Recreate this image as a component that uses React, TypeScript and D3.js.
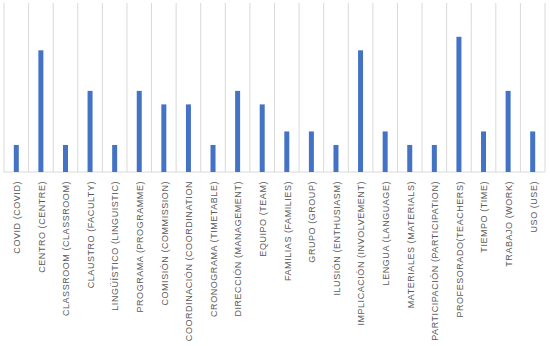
import React from "react";
import * as d3 from "d3";

const categories = [
  "COVID (COVID)",
  "CENTRO (CENTRE)",
  "CLASSROOM (CLASSROOM)",
  "CLAUSTRO (FACULTY)",
  "LINGÜÍSTICO (LINGUISTIC)",
  "PROGRAMA (PROGRAMME)",
  "COMISIÓN (COMMISSION)",
  "COORDINACIÓN (COORDINATION",
  "CRONOGRAMA (TIMETABLE)",
  "DIRECCIÓN (MANAGEMENT)",
  "EQUIPO (TEAM)",
  "FAMILIAS (FAMILIES)",
  "GRUPO (GROUP)",
  "ILUSIÓN (ENTHUSIASM)",
  "IMPLICACIÓN (INVOLVEMENT)",
  "LENGUA (LANGUAGE)",
  "MATERIALES (MATERIALS)",
  "PARTICIPACIÓN (PARTICIPATION)",
  "PROFESORADO(TEACHERS)",
  "TIEMPO (TIME)",
  "TRABAJO (WORK)",
  "USO (USE)",
];

const values = [2, 9, 2, 6, 2, 6, 5, 5, 2, 6, 5, 3, 3, 2, 9, 3, 2, 2, 10, 3, 6, 3];

const W = 550;
const H = 346;
const left = 4;
const right = 545;
const top = 3;
const baseline = 172;

export default function App() {
  const x = d3.scaleBand<string>().domain(categories).range([left, right]).padding(0);
  const y = d3.scaleLinear().domain([0, 12.5]).range([baseline, top]);
  const bw = 5;
  const edges = categories.map((c) => x(c)!).concat([right]);
  return (
    <svg
      width={W}
      height={H}
      style={{ position: "absolute", left: 0, top: 0, background: "#fff" }}
    >
      {edges.map((e, i) => (
        <line key={"g" + i} x1={e} x2={e} y1={top} y2={baseline} stroke="#d9d9d9" strokeWidth={1} />
      ))}
      <line x1={left} x2={right} y1={baseline} y2={baseline} stroke="#d9d9d9" strokeWidth={1} />
      {categories.map((c, i) => (
        <rect
          key={"b" + i}
          x={x(c)! + x.bandwidth() / 2 - bw / 2}
          y={y(values[i])}
          width={bw}
          height={baseline - y(values[i])}
          fill="#4472C4"
        />
      ))}
      {categories.map((c, i) => {
        const cx = x(c)! + x.bandwidth() / 2 + 0.8;
        const cy = 181;
        return (
          <text
            key={"t" + i}
            transform={`translate(${cx},${cy}) rotate(-90)`}
            textAnchor="end"
            dominantBaseline="central"
            fontFamily="Liberation Sans, Arial, sans-serif"
            fontSize={9}
            letterSpacing={0.55}
            fill="#595959"
          >
            {c}
          </text>
        );
      })}
    </svg>
  );
}
